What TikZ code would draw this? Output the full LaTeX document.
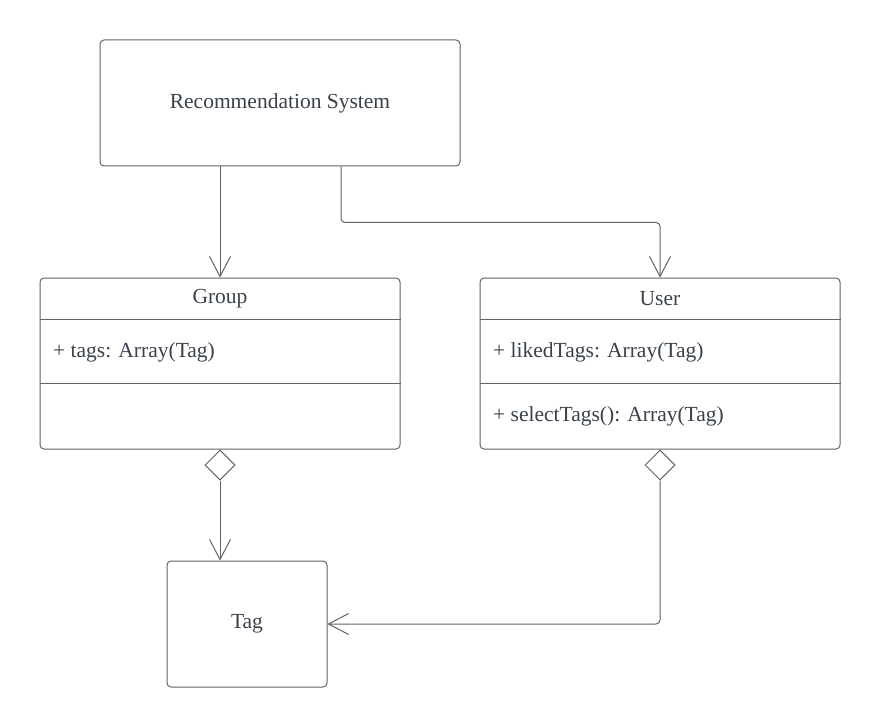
\documentclass[tikz,border=0pt]{standalone}
\usepackage{fontspec}
\setmainfont{Liberation Serif}
\usepackage{tikz}
\usetikzlibrary{shapes.geometric,arrows.meta,positioning,calc}
\definecolor{linegray}{HTML}{5F636A}
\definecolor{textgray}{HTML}{3A414B}

\begin{document}
\begin{tikzpicture}[
    x=1pt, y=-1pt,
    every node/.style={font=\fontsize{21.5}{26}\selectfont, text=textgray},
    box/.style={rectangle, draw=linegray, line width=1pt, rounded corners=4pt, inner sep=0pt},
    divider/.style={draw=linegray, line width=1pt},
    member/.style={anchor=west, inner sep=0pt},
    agg/.style={diamond, draw=linegray, line width=1pt, fill=white, inner sep=0pt, minimum width=30pt, minimum height=30pt},
    link/.style={-{Straight Barb[length=20pt, width=21pt]}, draw=linegray, line width=1pt, rounded corners=4pt}
]
    \useasboundingbox (0,0) rectangle (880,727);

    \node[box, minimum width=360pt, minimum height=126pt] (rs) at (280,103) {Recommendation System};
    \node[box, minimum width=360pt, minimum height=171pt] (group) at (220,363.5) {};
    \node[box, minimum width=360pt, minimum height=171pt] (user) at (660,363.5) {};
    \node[box, minimum width=160pt, minimum height=126pt] (tag) at (247,624) {Tag};

    % class compartments
    \draw[divider] ($(group.north west)+(0,42)$) -- ($(group.north east)+(0,42)$);
    \draw[divider] ($(group.north west)+(0,106)$) -- ($(group.north east)+(0,106)$);
    \draw[divider] ($(user.north west)+(0,42)$) -- ($(user.north east)+(0,42)$);
    \draw[divider] ($(user.north west)+(0,106)$) -- ($(user.north east)+(0,106)$);

    \node (grpname) at ($(group.north)+(0,21)$) {Group};
    \node[member] (grptags) at (53,352) {+ tags: Array(Tag)};
    \node (usrname) at ($(user.north)+(0,21)$) {User};
    \node[member] (usrliked) at (493,352) {+ likedTags: Array(Tag)};
    \node[member] (usrselect) at (493,416) {+ selectTags(): Array(Tag)};

    % associations
    \coordinate (rsout) at ($(rs.south)+(61,0)$);
    \draw[link] (group.north |- rs.south) -- (group.north);
    \draw[link] (rsout) -- ++(0,56) -| (user.north);

    % aggregations
    \node[agg, anchor=north] (gdia) at (group.south) {};
    \node[agg, anchor=north] (udia) at (user.south) {};
    \draw[link] (gdia.south) -- (gdia.south |- tag.north);
    \draw[link] (udia.south) |- (tag.east);
\end{tikzpicture}
\end{document}
